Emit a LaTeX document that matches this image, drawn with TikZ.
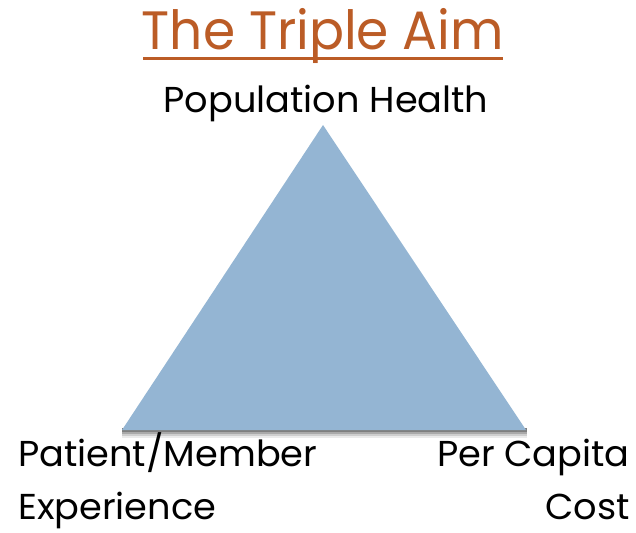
\documentclass[tikz,border=0pt]{standalone}
\usepackage{fontspec}
\setmainfont{Poppins}
\newfontfamily\geo[FakeStretch=1.02]{Poppins}
\newfontfamily\geot[FakeStretch=0.96]{Poppins}
\definecolor{titlec}{RGB}{187,92,38}
\definecolor{triblue}{RGB}{148,181,211}
\tikzset{
  lbl/.style={inner sep=0pt, font=\geo\fontsize{36}{44}\selectfont, text=black},
  ttl/.style={inner sep=0pt, font=\geot\fontsize{54}{60}\selectfont, text=titlec},
}
\begin{document}
\begin{tikzpicture}[x=1pt,y=-1pt]
\useasboundingbox (0,0) rectangle (636,532);
% shadow
\foreach \d/\o in {8/0.08,6/0.12,4/0.18,2/0.25}{
  \fill[black,opacity=\o] (122,428) rectangle (527,430+\d);
}
\coordinate (apex) at (323,125);
\coordinate (bl) at (122,430);
\coordinate (br) at (526,430);
\fill[triblue] (apex) -- (br) -- (bl) -- cycle;
\node[ttl, anchor=base] (title) at (323,50) {The Triple Aim};
\coordinate (ul1) at (143,58.5);
\coordinate (ul2) at (503,58.5);
\draw[titlec, line width=3] (ul1) -- (ul2);
\node[lbl, anchor=base] (pop) at (326,113) {Population Health};
\node[lbl, anchor=base west] (pm) at (18,466) {Patient/Member};
\node[lbl, anchor=base west] (exp) at (18,519) {Experience};
\node[lbl, anchor=base east] (pc) at (630,466) {Per Capita};
\node[lbl, anchor=base east] (cost) at (630,519) {Cost};
\end{tikzpicture}
\end{document}
